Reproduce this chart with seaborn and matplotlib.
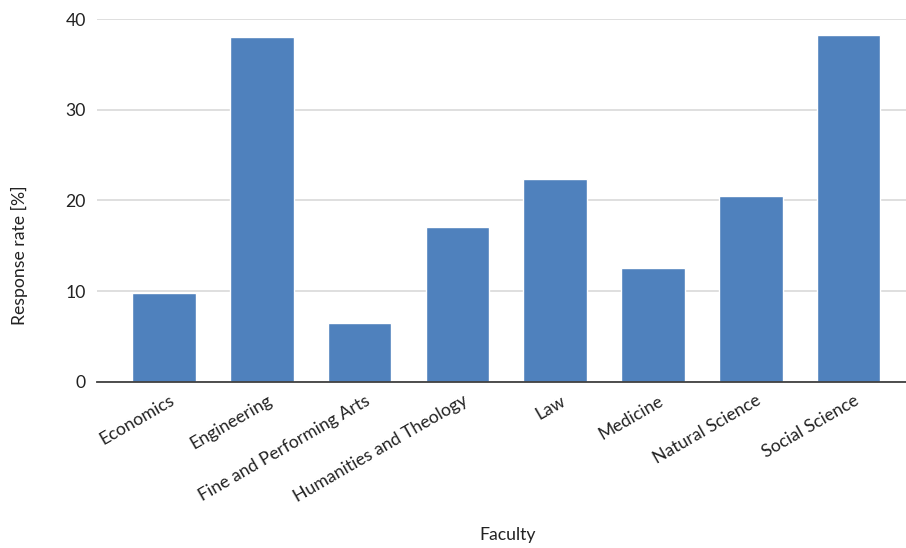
import matplotlib
matplotlib.use("Agg")
import matplotlib.pyplot as plt
import seaborn as sns
import pandas as pd

faculties = ["Economics", "Engineering", "Fine and Performing Arts",
             "Humanities and Theology", "Law", "Medicine",
             "Natural Science", "Social Science"]
response_rate = [9.8, 38.1, 6.5, 17.1, 22.4, 12.5, 20.5, 38.3]
y_ticks = [0, 10, 20, 30, 40]

df = pd.DataFrame({"Faculty": faculties, "Response rate [%]": response_rate})

sns.set_theme(style="white")
plt.rcParams["font.family"] = ["Lato", "DejaVu Sans"]

fig = plt.figure(figsize=(9.06, 5.48), dpi=100)
ax = fig.add_axes([0.107, 0.3036, 0.893, 0.6612])

sns.barplot(data=df, x="Faculty", y="Response rate [%]", color="#4F81BD",
            saturation=1, width=0.65, ax=ax)

ax.set_ylim(0, 40)
ax.set_xlim(-0.685, 7.587)
ax.set_yticks(y_ticks)
ax.yaxis.grid(True, color="#D9D9D9", linewidth=1.2)
ax.set_axisbelow(True)

for side in ["top", "right", "left"]:
    ax.spines[side].set_visible(False)
ax.spines["bottom"].set_color("#404040")
ax.spines["bottom"].set_linewidth(1.3)

ax.tick_params(axis="both", length=0, labelsize=12.7, colors="#222222")
ax.tick_params(axis="y", pad=8)
plt.setp(ax.get_xticklabels(), rotation=30, ha="right", va="top",
         rotation_mode="anchor")
for lbl in ax.get_xticklabels():
    lbl.set_transform(lbl.get_transform() +
                      matplotlib.transforms.ScaledTranslation(0.05, -0.06, fig.dpi_scale_trans))

ax.set_xlabel("Faculty", fontsize=12.7, color="#222222")
ax.set_ylabel("Response rate [%]", fontsize=12.7, color="#222222")
ax.xaxis.set_label_coords(0.507, -0.401)
ax.yaxis.set_label_coords(-0.085, 0.35)

fig.savefig("out.png", dpi=100, facecolor="white")
